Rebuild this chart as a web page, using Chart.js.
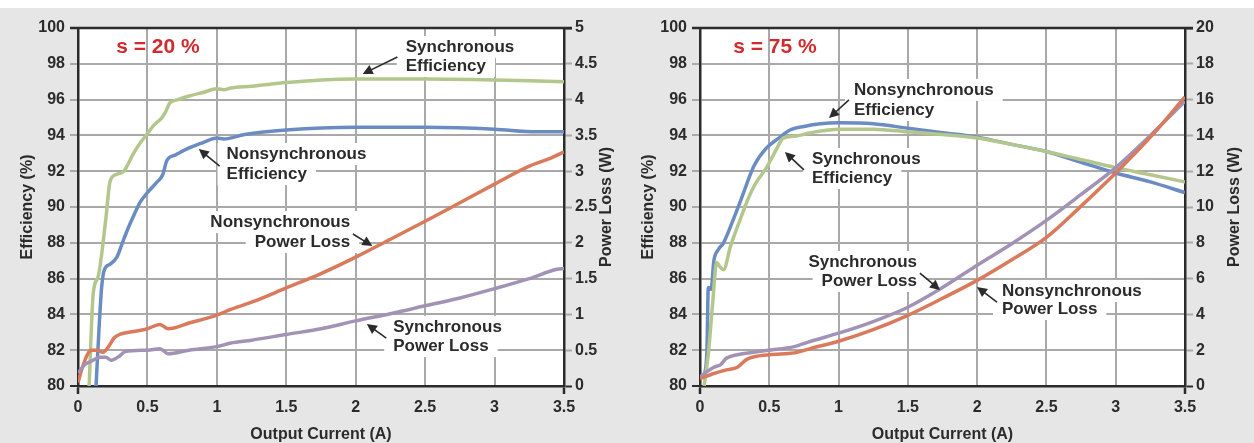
<!DOCTYPE html>
<html>
<head>
<meta charset="utf-8">
<script src="https://cdn.jsdelivr.net/npm/chart.js@4.4.1/dist/chart.umd.min.js"></script>
<style>
  html, body { margin: 0; padding: 0; }
  body { width: 1254px; height: 443px; background: linear-gradient(#fff 0 8px, #e6e6e6 8px); display: flex; }
  .wrap { position: relative; width: 627px; height: 443px; }
</style>
</head>
<body>
<div class="wrap"><canvas id="c20"></canvas></div>
<div class="wrap"><canvas id="c75"></canvas></div>
<script>
// x axis (Output Current, A) and tick labels
const xTicks = [0, 0.5, 1, 1.5, 2, 2.5, 3, 3.5];

// --- s = 20 % ---
const s20SyncEffX = [0.08, 0.11, 0.145, 0.2, 0.23, 0.27, 0.33, 0.4, 0.45, 0.5, 0.55, 0.6, 0.63, 0.66, 0.72, 0.8, 0.9, 1.0, 1.05, 1.1, 1.25, 1.5, 1.75, 2.0, 2.5, 3.0, 3.25, 3.5];
const s20SyncEffY = [80, 85.2, 86.1, 89.3, 91.4, 91.8, 92.0, 93.0, 93.6, 94.1, 94.6, 94.95, 95.3, 95.8, 96.0, 96.2, 96.4, 96.6, 96.55, 96.65, 96.75, 96.95, 97.1, 97.15, 97.15, 97.1, 97.05, 97.0];

const s20NsEffX = [0.13, 0.15, 0.17, 0.19, 0.23, 0.28, 0.32, 0.36, 0.4, 0.45, 0.5, 0.57, 0.61, 0.64, 0.7, 0.8, 0.9, 1.0, 1.05, 1.2, 1.5, 2.0, 2.5, 3.0, 3.3, 3.5];
const s20NsEffY = [80, 83, 85.5, 86.5, 86.8, 87.2, 88, 88.8, 89.5, 90.3, 90.8, 91.4, 91.8, 92.6, 92.9, 93.3, 93.6, 93.85, 93.8, 94.05, 94.3, 94.45, 94.45, 94.35, 94.2, 94.2];

const s20NsLossX = [0, 0.03, 0.07, 0.1, 0.13, 0.18, 0.22, 0.26, 0.3, 0.4, 0.5, 0.59, 0.65, 0.8, 1.0, 1.1, 1.25, 1.5, 1.75, 2.0, 2.25, 2.5, 2.75, 3.0, 3.25, 3.4, 3.5];
const s20NsLossY = [0.05, 0.25, 0.45, 0.5, 0.5, 0.47, 0.55, 0.67, 0.72, 0.76, 0.8, 0.86, 0.8, 0.88, 0.99, 1.07, 1.17, 1.37, 1.57, 1.8, 2.05, 2.3, 2.56, 2.82, 3.07, 3.18, 3.27];

const s20SyncLossX = [0, 0.05, 0.1, 0.16, 0.2, 0.24, 0.3, 0.34, 0.5, 0.59, 0.65, 0.8, 1.0, 1.1, 1.25, 1.5, 1.75, 2.0, 2.25, 2.5, 2.75, 3.0, 3.25, 3.45, 3.5];
const s20SyncLossY = [0.18, 0.3, 0.35, 0.4, 0.4, 0.36, 0.42, 0.48, 0.5, 0.52, 0.45, 0.5, 0.55, 0.6, 0.64, 0.72, 0.8, 0.91, 1.01, 1.12, 1.23, 1.36, 1.5, 1.63, 1.64];

// --- s = 75 % ---
const s75NsEffX = [0.03, 0.05, 0.06, 0.08, 0.1, 0.13, 0.17, 0.24, 0.3, 0.39, 0.48, 0.56, 0.65, 0.75, 0.87, 1.0, 1.25, 1.5, 1.75, 2.0, 2.25, 2.5, 2.75, 3.0, 3.25, 3.5];
const s75NsEffY = [80.5, 82, 85.5, 85.4, 87, 87.6, 88, 89.3, 90.5, 92.3, 93.3, 93.8, 94.3, 94.5, 94.65, 94.7, 94.65, 94.4, 94.15, 93.9, 93.5, 93.1, 92.5, 91.9, 91.4, 90.8];

const s75SyncEffX = [0.03, 0.06, 0.09, 0.12, 0.14, 0.17, 0.22, 0.29, 0.35, 0.4, 0.48, 0.55, 0.6, 0.68, 0.8, 1.0, 1.25, 1.5, 1.75, 2.0, 2.25, 2.5, 2.75, 3.0, 3.25, 3.5];
const s75SyncEffY = [80, 81.8, 84.5, 86.9, 86.7, 86.5, 87.8, 89.3, 90.5, 91.3, 92.2, 93.2, 93.85, 93.95, 94.15, 94.35, 94.35, 94.2, 94.05, 93.85, 93.5, 93.1, 92.65, 92.2, 91.8, 91.4];

const s75SyncLossX = [0, 0.05, 0.1, 0.15, 0.19, 0.27, 0.4, 0.5, 0.68, 0.8, 1.0, 1.25, 1.5, 1.75, 2.0, 2.25, 2.5, 2.75, 3.0, 3.25, 3.5];
const s75SyncLossY = [0.5, 0.8, 1.05, 1.2, 1.55, 1.75, 1.9, 2.0, 2.2, 2.5, 2.95, 3.6, 4.4, 5.5, 6.75, 7.95, 9.25, 10.7, 12.2, 14.0, 15.9];

const s75NsLossX = [0, 0.1, 0.19, 0.27, 0.34, 0.5, 0.68, 0.8, 1.0, 1.25, 1.5, 1.75, 2.0, 2.25, 2.5, 2.75, 3.0, 3.25, 3.5];
const s75NsLossY = [0.4, 0.7, 0.9, 1.05, 1.5, 1.75, 1.85, 2.1, 2.5, 3.15, 3.95, 4.9, 5.9, 7.05, 8.3, 10.05, 11.9, 13.9, 16.15];

const GREEN = '#b3c78c', BLUE = '#6b8cc2', ORANGE = '#d87a5b', PURPLE = '#a293b6';
const INK = '#2b2b2b', GRID = '#a9a9a9';
const FONT = '"Liberation Sans", Arial, sans-serif';

Chart.defaults.font.family = FONT;

const pts = (xs, ys) => xs.map((x, i) => ({ x, y: ys[i] }));
const line = (data, color, axis) => ({
  data, borderColor: color, borderWidth: 3.5, pointRadius: 0, yAxisID: axis,
  cubicInterpolationMode: 'monotone', fill: false
});

// white boxes under the callouts, then text + arrows on top
const notesPlugin = {
  id: 'notes',
  beforeDraw(chart) {
    const { ctx, chartArea: a } = chart;
    ctx.save();
    ctx.fillStyle = '#fff';
    ctx.fillRect(a.left, a.top, a.right - a.left, a.bottom - a.top);
    ctx.restore();
  },
  beforeDatasetsDraw(chart, args, opts) {
    const { ctx, chartArea: a, scales: { x, y } } = chart;
    ctx.save();
    ctx.font = 'bold 17px ' + FONT;
    ctx.fillStyle = '#fff';
    opts.labels.forEach(n => {
      n.text.forEach((t, i) => {
        const w = ctx.measureText(t).width;
        const px = x.getPixelForValue(n.x);
        const py = y.getPixelForValue(n.y[i]);
        const left = n.align === 'right' ? px - w : px;
        ctx.fillRect(left - 9, py - 11, w + 18, 22);
      });
    });
    ctx.strokeStyle = INK; ctx.lineWidth = 2.5;
    ctx.beginPath(); ctx.moveTo(a.left - 8, a.top); ctx.lineTo(a.right + 8, a.top); ctx.stroke();
    ctx.restore();
  },
  afterDatasetsDraw(chart, args, opts) {
    const { ctx, chartArea: a, scales: { x, y } } = chart;
    ctx.save();
    ctx.font = 'bold 17px ' + FONT;
    ctx.fillStyle = INK;
    ctx.textBaseline = 'middle';
    opts.labels.forEach(n => {
      ctx.textAlign = n.align;
      n.text.forEach((t, i) => ctx.fillText(t, x.getPixelForValue(n.x), y.getPixelForValue(n.y[i])));
    });
    ctx.strokeStyle = INK; ctx.lineWidth = 1.6;
    opts.arrows.forEach(r => {
      const x1 = x.getPixelForValue(r[0]), y1 = y.getPixelForValue(r[1]);
      const x2 = x.getPixelForValue(r[2]), y2 = y.getPixelForValue(r[3]);
      const ang = Math.atan2(y2 - y1, x2 - x1);
      ctx.beginPath(); ctx.moveTo(x1, y1); ctx.lineTo(x2 - 6 * Math.cos(ang), y2 - 6 * Math.sin(ang)); ctx.stroke();
      ctx.beginPath();
      ctx.moveTo(x2, y2);
      ctx.lineTo(x2 - 10 * Math.cos(ang) + 5 * Math.sin(ang), y2 - 10 * Math.sin(ang) - 5 * Math.cos(ang));
      ctx.lineTo(x2 - 10 * Math.cos(ang) - 5 * Math.sin(ang), y2 - 10 * Math.sin(ang) + 5 * Math.cos(ang));
      ctx.closePath(); ctx.fill();
    });
    ctx.font = 'bold 21px ' + FONT;
    ctx.fillStyle = '#d22b2f';
    ctx.textAlign = 'center';
    ctx.fillText(opts.tag.text, x.getPixelForValue(opts.tag.x), y.getPixelForValue(opts.tag.y));

    // right axis title reads bottom-to-top like the left one
    ctx.font = 'bold 16px ' + FONT;
    ctx.fillStyle = INK;
    ctx.translate(chart.width - opts.rightTitleOffset, (a.top + a.bottom) / 2);
    ctx.rotate(-Math.PI / 2);
    ctx.fillText('Power Loss (W)', 0, 0);
    ctx.restore();
  }
};

const edgeTick = (lo, hi, mid) => c => (c.tick && (c.tick.value === lo || c.tick.value === hi)) ? INK : mid;
const tickFont = { size: 16, weight: 'bold' };
const titleFont = { size: 16, weight: 'bold', lineHeight: 1 };
const plain = v => String(v);

function makeChart(id, o) {
  return new Chart(document.getElementById(id), {
    type: 'line',
    data: { datasets: o.datasets },
    plugins: [notesPlugin],
    options: {
      responsive: true, maintainAspectRatio: false, animation: false,
      layout: { padding: { top: 28, left: 0, right: 0, bottom: 0 } },
      plugins: { legend: { display: false }, tooltip: { enabled: false }, notes: o.notes },
      scales: {
        x: {
          type: 'linear', min: 0, max: 3.5,
          afterBuildTicks: s => { s.ticks = xTicks.map(v => ({ value: v })); },
          afterFit: s => { s.height = 57; },
          ticks: { color: INK, font: tickFont, padding: 4, callback: plain },
          grid: { color: GRID, lineWidth: 2, tickLength: 8, tickWidth: 2.5, tickColor: edgeTick(0, 3.5, 'rgba(0,0,0,0)') },
          border: { color: INK, width: 2.5 },
          title: { display: true, text: 'Output Current (A)', color: INK, font: titleFont, padding: { top: 0, bottom: 0 } }
        },
        y: {
          position: 'left', min: 80, max: 100,
          ticks: { stepSize: 2, color: INK, font: tickFont, padding: 5, callback: plain },
          afterFit: s => { s.width = o.yWidth; },
          grid: { color: GRID, lineWidth: 2, tickLength: 8, tickWidth: 2, tickColor: edgeTick(80, 100, GRID) },
          border: { color: INK, width: 2.5 },
          title: { display: true, text: 'Efficiency (%)', color: INK, font: titleFont, padding: { top: o.yTitlePad, bottom: 0 } }
        },
        y1: {
          position: 'right', min: 0, max: o.lossMax,
          ticks: { stepSize: o.lossStep, color: INK, font: tickFont, padding: 3, callback: plain },
          afterFit: s => { s.width = o.y1Width; },
          grid: { drawOnChartArea: false, tickLength: 8, tickWidth: 2, tickColor: edgeTick(0, o.lossMax, GRID) },
          border: { color: INK, width: 2.5 }
        }
      }
    }
  });
}

makeChart('c20', {
  yWidth: 78, y1Width: 63, yTitlePad: 20, lossMax: 5, lossStep: 0.5,
  datasets: [
    line(pts(s20SyncLossX, s20SyncLossY), PURPLE, 'y1'),
    line(pts(s20NsLossX, s20NsLossY), ORANGE, 'y1'),
    line(pts(s20NsEffX, s20NsEffY), BLUE, 'y'),
    line(pts(s20SyncEffX, s20SyncEffY), GREEN, 'y')
  ],
  notes: {
    rightTitleOffset: 20,
    tag: { text: 's = 20 %', x: 0.576, y: 98.94 },
    labels: [
      { text: ['Synchronous', 'Efficiency'], x: 2.36, y: [98.94, 97.88], align: 'left' },
      { text: ['Nonsynchronous', 'Efficiency'], x: 1.07, y: [92.96, 91.84], align: 'left' },
      { text: ['Nonsynchronous', 'Power Loss'], x: 1.96, y: [89.16, 88.04], align: 'right' },
      { text: ['Synchronous', 'Power Loss'], x: 2.27, y: [83.3, 82.23], align: 'left' }
    ],
    arrows: [
      [2.30, 98.38, 2.05, 97.43],
      [1.02, 92.29, 0.87, 93.24],
      [1.98, 88.49, 2.12, 87.82],
      [2.22, 82.68, 2.08, 83.46]
    ]
  }
});

makeChart('c75', {
  yWidth: 73, y1Width: 69, yTitlePad: 14, lossMax: 20, lossStep: 2,
  datasets: [
    line(pts(s75NsLossX, s75NsLossY), ORANGE, 'y1'),
    line(pts(s75SyncLossX, s75SyncLossY), PURPLE, 'y1'),
    line(pts(s75SyncEffX, s75SyncEffY), GREEN, 'y'),
    line(pts(s75NsEffX, s75NsEffY), BLUE, 'y')
  ],
  notes: {
    rightTitleOffset: 19,
    tag: { text: 's = 75 %', x: 0.541, y: 98.94 },
    labels: [
      { text: ['Nonsynchronous', 'Efficiency'], x: 1.111, y: [96.54, 95.42], align: 'left' },
      { text: ['Synchronous', 'Efficiency'], x: 0.808, y: [92.68, 91.62], align: 'left' },
      { text: ['Synchronous', 'Power Loss'], x: 1.566, y: [86.93, 85.87], align: 'right' },
      { text: ['Nonsynchronous', 'Power Loss'], x: 2.179, y: [85.31, 84.3], align: 'left' }
    ],
    arrows: [
      [1.075, 95.98, 0.931, 94.97],
      [0.75, 92.07, 0.613, 93.07],
      [1.587, 86.31, 1.732, 85.36],
      [2.143, 84.69, 1.999, 85.53]
    ]
  }
});
</script>
</body>
</html>
